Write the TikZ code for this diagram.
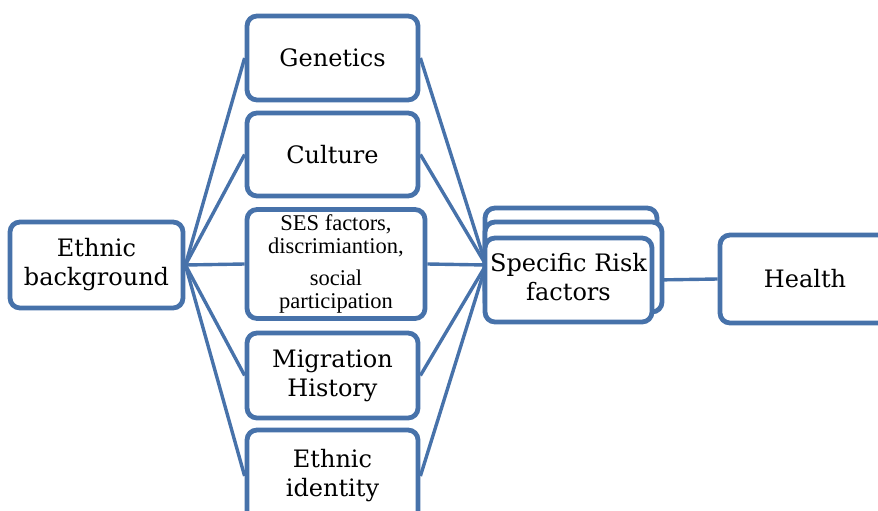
\documentclass[tikz,border=0pt]{standalone}
\usepackage{fontspec}
\setmainfont{Liberation Serif}
\newfontfamily\boxfont{DejaVu Serif}
\usetikzlibrary{backgrounds}
\definecolor{bl}{RGB}{71,114,170}
\tikzset{
  box/.style={draw=bl, line width=4.8pt, rounded corners=10pt, fill=white,
    align=center, inner sep=0pt, font=\boxfont\fontsize{24}{29}\selectfont},
  conn/.style={draw=bl, line width=3.4pt}
}
\begin{document}
\begin{tikzpicture}[x=1pt,y=-1pt]
\useasboundingbox (0,0) rectangle (878,511);
\clip (0,0) rectangle (878,511);
% left node
\node[box, minimum width=173pt, minimum height=86pt] (eb) at (96.5,265) {Ethnic\\background};
% middle column
\node[box, minimum width=171pt, minimum height=84pt] (gen) at (332.5,58) {Genetics};
\node[box, minimum width=171pt, minimum height=83pt] (cul) at (332.5,154.5) {Culture};
\node[box, minimum width=178pt, minimum height=109pt,
  font=\rmfamily\fontsize{22.5}{23}\selectfont] (ses) at (336,264) {SES factors,\\discrimiantion,\\[9pt]social\\participation};
\node[box, minimum width=171pt, minimum height=85pt] (mig) at (332.5,375.5) {Migration\\History};
\node[box, minimum width=171pt, minimum height=92pt] (eid) at (332.5,476) {Ethnic\\identity};
% specific risk factors stack
\node[box, minimum width=172pt, minimum height=92pt] (srb) at (571,254) {};
\node[box, minimum width=177pt, minimum height=90pt] (srm) at (573.5,267) {};
\node[box, minimum width=167pt, minimum height=84pt] (srf) at (568.5,280) {\raisebox{4pt}{\begin{tabular}{@{}c@{}}Specific Risk\\factors\end{tabular}}};
\coordinate (srin) at (486,265);
% health
\node[box, minimum width=170pt, minimum height=88pt] (hl) at (805,279) {Health};
\begin{pgfonlayer}{background}
\foreach \n in {gen,cul,ses,mig,eid}{
  \draw[conn] (eb.east) -- (\n.west);
  \draw[conn] (\n.east) -- (srin);
}
\draw[conn] (srf.east) -- (hl.west);
\end{pgfonlayer}
\end{tikzpicture}
\end{document}
